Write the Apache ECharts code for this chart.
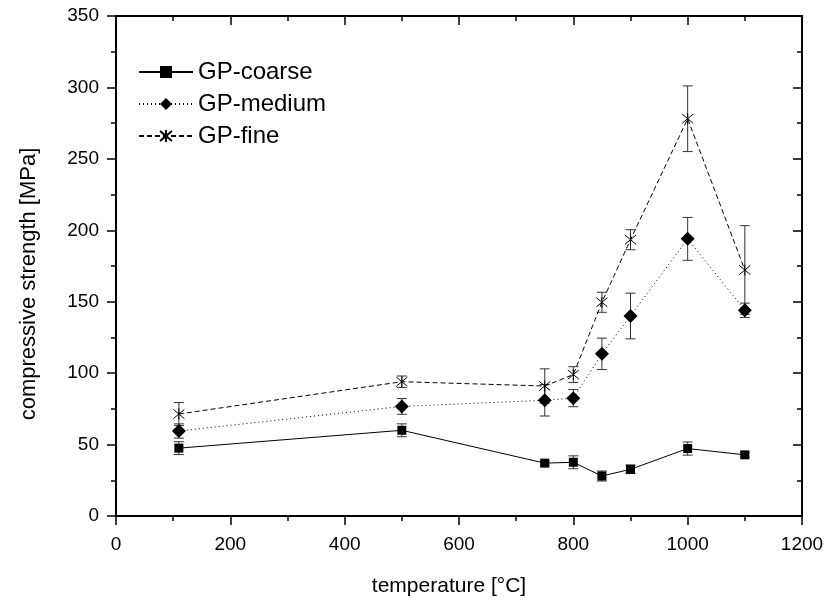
<!DOCTYPE html>
<html>
<head>
<meta charset="utf-8">
<script src="https://cdn.jsdelivr.net/npm/echarts@6/dist/echarts.min.js"></script>
<style>
  html, body { margin: 0; padding: 0; background: #fff; }
  #main { width: 828px; height: 602px; }
</style>
</head>
<body>
<div id="main"></div>
<script>
// temperatures [°C] and compressive strength [MPa]
var temps = [110, 500, 750, 800, 850, 900, 1000, 1100];

var coarse    = [47.5, 60, 37, 37.6, 28, 32.7, 47.2, 42.8];
var coarseErr = [4.5, 4.5, 1.5, 4.5, 3.5, 3, 4.6, 1.5];

var medium    = [59.5, 76.7, 81, 82.5, 113.5, 140, 194, 144];
var mediumErr = [5, 5.5, 11, 6, 11, 16, 15, 5];

var fine      = [71.4, 94, 91, 99, 149.6, 193.4, 278.1, 172.2];
var fineErr   = [8, 4, 12, 5.5, 7, 7, 23, 31];

var seriesNames = ['GP-coarse', 'GP-medium', 'GP-fine'];
var xTicks = [0, 200, 400, 600, 800, 1000, 1200];
var yTicks = [0, 50, 100, 150, 200, 250, 300, 350];

var font = 'Liberation Sans, Arial, sans-serif';
var asterisk = 'path://M0,0 L10,10 M10,0 L0,10 M5,-1 L5,11';

function points(vals) {
	var out = [];
	for (var i = 0; i < temps.length; i++) {
		out.push([temps[i], vals[i]]);
	}
	return out;
}

function errPoints(vals, errs) {
	var out = [];
	for (var i = 0; i < temps.length; i++) {
		out.push([temps[i], vals[i] - errs[i], vals[i] + errs[i]]);
	}
	return out;
}

// vertical error bar with caps
function renderErr(params, api) {
	var lo = api.coord([api.value(0), api.value(1)]);
	var hi = api.coord([api.value(0), api.value(2)]);
	var w = 5;
	var style = { stroke: '#333', lineWidth: 1 };
	return {
		type: 'group',
		children: [
			{ type: 'line', shape: { x1: lo[0], y1: lo[1], x2: hi[0], y2: hi[1] }, style: style },
			{ type: 'line', shape: { x1: lo[0] - w, y1: lo[1], x2: lo[0] + w, y2: lo[1] }, style: style },
			{ type: 'line', shape: { x1: hi[0] - w, y1: hi[1], x2: hi[0] + w, y2: hi[1] }, style: style }
		]
	};
}

function errSeries(vals, errs) {
	return {
		type: 'custom',
		renderItem: renderErr,
		data: errPoints(vals, errs),
		encode: { x: 0, y: [1, 2] },
		silent: true,
		z: 1
	};
}

var axisLine = { show: true, onZero: false, lineStyle: { color: '#000', width: 2 } };

var myChart = echarts.init(document.getElementById('main'));

var option = {
	animation: false,
	backgroundColor: '#fff',
	textStyle: { fontFamily: font },
	grid: { left: 116, right: 26, top: 16, bottom: 79 },
	legend: {
		orient: 'vertical',
		left: 138,
		top: 60,
		padding: 0,
		itemWidth: 54,
		itemHeight: 15,
		itemGap: 8,
		data: seriesNames,
		textStyle: { fontSize: 24, color: '#000', fontFamily: font }
	},
	xAxis: [{
		type: 'value',
		min: 0, max: 1200, interval: 200,
		name: 'temperature [°C]',
		nameLocation: 'middle',
		nameGap: 60,
		nameTextStyle: { fontSize: 21, color: '#000', padding: [0, 20, 0, 0] },
		axisLine: axisLine,
		axisTick: { show: true, length: 9, lineStyle: { color: '#000', width: 1.5 } },
		minorTick: { show: true, splitNumber: 2, length: 5, lineStyle: { color: '#000', width: 1.5 } },
		axisLabel: { fontSize: 19, color: '#000', margin: 19,
			formatter: function(v) { return xTicks.indexOf(v) >= 0 ? String(v) : ''; } },
		splitLine: { show: false }
	}, {
		type: 'value', position: 'top',
		min: 0, max: 1200, interval: 200,
		axisLine: axisLine,
		axisTick: { show: true, inside: true, length: 9, lineStyle: { color: '#000', width: 1.5 } },
		minorTick: { show: true, splitNumber: 2, length: 5, lineStyle: { color: '#000', width: 1.5 } },
		axisLabel: { show: false },
		splitLine: { show: false }
	}],
	yAxis: [{
		type: 'value',
		min: 0, max: 350, interval: 50,
		name: 'compressive strength [MPa]',
		nameLocation: 'middle',
		nameGap: 76,
		nameTextStyle: { fontSize: 22, color: '#000', padding: [0, 36, 0, 0] },
		axisLine: axisLine,
		axisTick: { show: true, length: 9, lineStyle: { color: '#000', width: 1.5 } },
		minorTick: { show: true, splitNumber: 2, length: 5, lineStyle: { color: '#000', width: 1.5 } },
		axisLabel: { fontSize: 19, color: '#000', margin: 17,
			formatter: function(v) { return yTicks.indexOf(v) >= 0 ? String(v) : ''; } },
		splitLine: { show: false }
	}, {
		type: 'value', position: 'right',
		min: 0, max: 350, interval: 50,
		axisLine: axisLine,
		axisTick: { show: true, inside: true, length: 9, lineStyle: { color: '#000', width: 1.5 } },
		minorTick: { show: true, splitNumber: 2, length: 5, lineStyle: { color: '#000', width: 1.5 } },
		axisLabel: { show: false },
		splitLine: { show: false }
	}],
	series: [
		errSeries(coarse, coarseErr),
		errSeries(medium, mediumErr),
		errSeries(fine, fineErr),
		{
			name: 'GP-coarse',
			type: 'line',
			data: points(coarse),
			symbol: 'rect',
			symbolSize: 9,
			color: '#000',
			itemStyle: { color: '#000' },
			lineStyle: { color: '#000', width: 1, type: 'solid' },
			z: 3
		},
		{
			name: 'GP-medium',
			type: 'line',
			data: points(medium),
			symbol: 'diamond',
			symbolSize: 14,
			color: '#000',
			itemStyle: { color: '#000' },
			lineStyle: { color: '#000', width: 1, type: [1, 3] },
			z: 3
		},
		{
			name: 'GP-fine',
			type: 'line',
			data: points(fine),
			symbol: asterisk,
			symbolSize: 11,
			color: '#000',
			itemStyle: { color: 'rgba(0,0,0,0)', borderColor: '#000', borderWidth: 1 },
			lineStyle: { color: '#000', width: 1, type: [5, 3] },
			z: 3
		}
	]
};

myChart.setOption(option);
</script>
</body>
</html>
